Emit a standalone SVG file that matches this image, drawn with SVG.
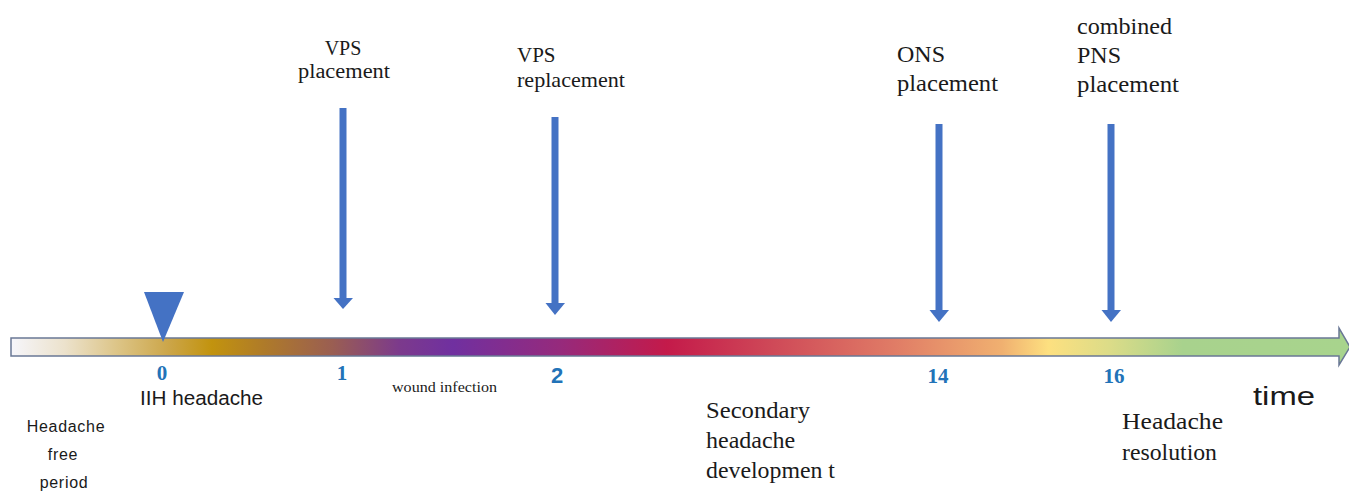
<svg xmlns="http://www.w3.org/2000/svg" width="1349" height="491" viewBox="0 0 1349 491">
<style>
.ser{font-family:'Liberation Serif',serif;fill:#1a1a1a}
.sans{font-family:'Liberation Sans',sans-serif;fill:#1a1a1a}
.num{font-family:'Liberation Serif',serif;font-weight:bold;fill:#2273b8;font-size:21px;text-anchor:middle}
.arr{fill:#4472c4}
</style>
<defs>
<linearGradient id="tl" gradientUnits="userSpaceOnUse" x1="11" y1="0" x2="1350" y2="0">
<stop offset="0" stop-color="#f6f6fb"/>
<stop offset="0.04" stop-color="#ece2cc"/>
<stop offset="0.08" stop-color="#dcc486"/>
<stop offset="0.12" stop-color="#cba445"/>
<stop offset="0.15" stop-color="#c2930e"/>
<stop offset="0.19" stop-color="#ae7a2a"/>
<stop offset="0.24" stop-color="#9a5e52"/>
<stop offset="0.29" stop-color="#7c3a8c"/>
<stop offset="0.33" stop-color="#7030a0"/>
<stop offset="0.41" stop-color="#962a7c"/>
<stop offset="0.49" stop-color="#c41a4a"/>
<stop offset="0.57" stop-color="#cf4a58"/>
<stop offset="0.66" stop-color="#e07c66"/>
<stop offset="0.74" stop-color="#f0b070"/>
<stop offset="0.775" stop-color="#fde080"/>
<stop offset="0.82" stop-color="#dcdc88"/>
<stop offset="0.875" stop-color="#a8d28d"/>
<stop offset="1" stop-color="#a8d48d"/>
</linearGradient>
</defs>

<g id="timeline">
<polygon points="11,338 1339,338 1339,328 1350,347 1339,365 1339,356 11,356" fill="url(#tl)" stroke="#6a7895" stroke-width="1.5"/>
</g>

<g id="start-marker">
<polygon class="arr" points="144,292 184,292 163,342"/>
</g>

<g id="connectors">
<g id="arrow-vps-placement">
<rect class="arr" x="339.5" y="108" width="7" height="191"/>
<polygon class="arr" points="333.5,298 353,298 343,309"/>
</g>
<g id="arrow-vps-replacement">
<rect class="arr" x="551.5" y="117" width="7" height="187"/>
<polygon class="arr" points="545.5,303 565,303 555,315"/>
</g>
<g id="arrow-ons">
<rect class="arr" x="935.5" y="124" width="7" height="187"/>
<polygon class="arr" points="929.5,310 949,310 939,322"/>
</g>
<g id="arrow-pns">
<rect class="arr" x="1107.5" y="124" width="7" height="187"/>
<polygon class="arr" points="1101.5,310 1121,310 1111,322"/>
</g>
</g>

<g id="label-vps-placement" font-family="'Liberation Serif', serif">
<text class="ser" font-family="'Liberation Serif', serif" x="343" y="55" font-size="20" text-anchor="middle">VPS</text>
<text class="ser" font-family="'Liberation Serif', serif" x="344" y="78" font-size="20" text-anchor="middle" textLength="92" lengthAdjust="spacingAndGlyphs">placement</text>
</g>
<g id="label-vps-replacement" font-family="'Liberation Serif', serif">
<text class="ser" font-family="'Liberation Serif', serif" x="517" y="62" font-size="21">VPS</text>
<text class="ser" font-family="'Liberation Serif', serif" x="517" y="87" font-size="21" textLength="108" lengthAdjust="spacingAndGlyphs">replacement</text>
</g>
<g id="label-ons" font-family="'Liberation Serif', serif">
<text class="ser" font-family="'Liberation Serif', serif" x="897" y="62" font-size="24">ONS</text>
<text class="ser" font-family="'Liberation Serif', serif" x="897" y="91" font-size="24" textLength="101" lengthAdjust="spacingAndGlyphs">placement</text>
</g>
<g id="label-pns" font-family="'Liberation Serif', serif">
<text class="ser" font-family="'Liberation Serif', serif" x="1077" y="34" font-size="24" textLength="95" lengthAdjust="spacingAndGlyphs">combined</text>
<text class="ser" font-family="'Liberation Serif', serif" x="1077" y="63" font-size="24">PNS</text>
<text class="ser" font-family="'Liberation Serif', serif" x="1077" y="92" font-size="24" textLength="102" lengthAdjust="spacingAndGlyphs">placement</text>
</g>

<g id="ticks">
<text class="num" x="162" y="380">0</text>
<text class="num" x="342" y="380">1</text>
<text x="557" y="383" font-family="'Liberation Sans', sans-serif" font-weight="bold" font-size="22" fill="#2273b8" text-anchor="middle">2</text>
<text class="num" x="938" y="383">14</text>
<text class="num" x="1114" y="383">16</text>
</g>

<g id="label-iih">
<text class="sans" x="140" y="405" font-size="20" textLength="123" lengthAdjust="spacingAndGlyphs">IIH headache</text>
</g>
<g id="label-headache-free">
<text class="sans" x="66" y="432" font-size="16" text-anchor="middle" letter-spacing="0.7">Headache</text>
<text class="sans" x="63" y="460" font-size="16" text-anchor="middle" letter-spacing="0.7">free</text>
<text class="sans" x="64" y="488" font-size="16" text-anchor="middle" letter-spacing="0.7">period</text>
</g>
<g id="label-wound" font-family="'Liberation Serif', serif">
<text class="ser" font-family="'Liberation Serif', serif" x="392" y="392" font-size="15" textLength="105" lengthAdjust="spacingAndGlyphs">wound infection</text>
</g>
<g id="label-secondary" font-family="'Liberation Serif', serif">
<text class="ser" font-family="'Liberation Serif', serif" x="706" y="418" font-size="24" textLength="104" lengthAdjust="spacingAndGlyphs">Secondary</text>
<text class="ser" font-family="'Liberation Serif', serif" x="706" y="448" font-size="24">headache</text>
<text class="ser" font-family="'Liberation Serif', serif" x="706" y="478" font-size="24" textLength="129" lengthAdjust="spacingAndGlyphs">developmen t</text>
</g>
<g id="label-resolution" font-family="'Liberation Serif', serif">
<text class="ser" font-family="'Liberation Serif', serif" x="1122" y="429" font-size="24" textLength="101" lengthAdjust="spacingAndGlyphs">Headache</text>
<text class="ser" font-family="'Liberation Serif', serif" x="1122" y="460" font-size="24" textLength="95" lengthAdjust="spacingAndGlyphs">resolution</text>
</g>
<g id="label-time">
<text class="sans" x="1253" y="405" font-size="26" textLength="62" lengthAdjust="spacingAndGlyphs">time</text>
</g>
</svg>
